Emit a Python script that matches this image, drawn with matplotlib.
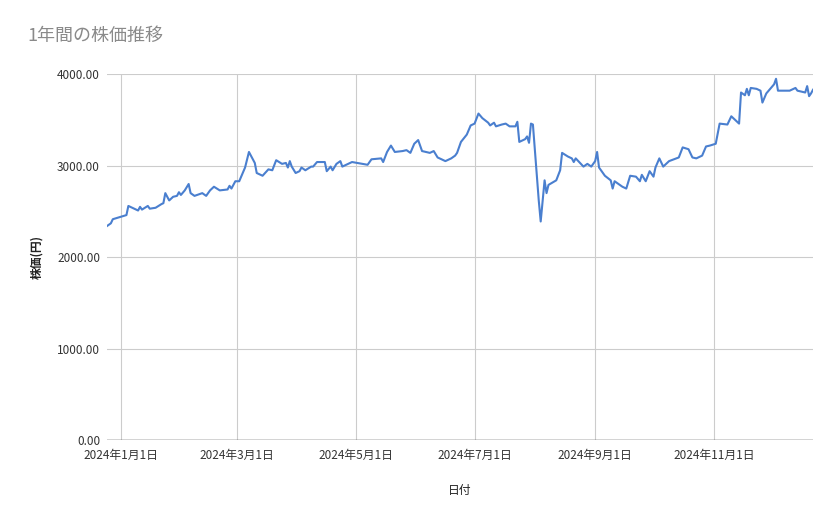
import numpy as np
import pandas as pd
import matplotlib
matplotlib.use('Agg')
import matplotlib.pyplot as plt

plt.rcParams['font.family'] = ['Noto Sans CJK JP', 'DejaVu Sans']

# days from 2024-01-01
days = [-7, -5, -4, 0, 3, 4, 7, 9, 10, 11, 14, 15, 18, 21, 22, 23, 25, 27, 29, 30,
        31, 33, 35, 36, 38, 42, 44, 46, 48, 51, 55, 56, 57, 59, 61, 64, 66, 69, 70, 73,
        76, 78, 80, 83, 85, 86, 87, 88, 90, 92, 93, 95, 98, 99, 101, 105, 106, 108, 109, 111,
        113, 114, 116, 119, 127, 129, 134, 135, 137, 139, 141, 145, 147, 149, 151, 153, 155, 159, 161, 163,
        167, 170, 172, 173, 175, 178, 180, 182, 184, 186, 189, 190, 192, 193, 196, 198, 200, 203, 204, 205,
        208, 209, 210, 211, 212, 215, 216, 218, 219, 220, 224, 226, 227, 230, 232, 233, 234, 238, 240, 242,
        244, 245, 246, 249, 252, 253, 254, 258, 260, 262, 265, 267, 268, 270, 272, 274, 275, 277, 279, 282,
        287, 289, 292, 294, 296, 299, 301, 303, 306, 308, 312, 314, 318, 319, 321, 322, 323, 324, 327, 329,
        330, 332, 336, 337, 338, 341, 344, 347, 348, 352, 353, 354, 355, 356]
prices = [2340, 2370, 2415, 2440, 2460, 2560, 2530, 2510, 2550, 2520, 2560, 2530, 2540, 2580, 2590, 2700, 2620, 2660, 2670, 2710,
          2680, 2730, 2800, 2700, 2670, 2700, 2670, 2730, 2770, 2730, 2740, 2780, 2750, 2830, 2830, 2980, 3150, 3030, 2920, 2890,
          2960, 2950, 3060, 3020, 3030, 2980, 3050, 2990, 2920, 2940, 2980, 2950, 2990, 2990, 3040, 3040, 2940, 2990, 2950, 3020,
          3050, 2990, 3010, 3040, 3010, 3070, 3080, 3040, 3150, 3220, 3150, 3160, 3170, 3140, 3240, 3280, 3160, 3140, 3160, 3090,
          3050, 3080, 3110, 3140, 3260, 3340, 3440, 3460, 3570, 3520, 3470, 3440, 3470, 3430, 3450, 3460, 3430, 3430, 3480, 3260,
          3290, 3320, 3250, 3460, 3450, 2620, 2390, 2840, 2700, 2790, 2840, 2950, 3140, 3100, 3080, 3040, 3080, 2990, 3020, 2990,
          3050, 3150, 2980, 2890, 2840, 2750, 2830, 2770, 2750, 2890, 2880, 2830, 2900, 2830, 2940, 2880, 2980, 3080, 2990, 3050,
          3090, 3200, 3180, 3090, 3080, 3110, 3210, 3220, 3240, 3460, 3450, 3540, 3460, 3800, 3770, 3840, 3770, 3850, 3840, 3820,
          3690, 3790, 3890, 3950, 3820, 3820, 3820, 3850, 3820, 3800, 3870, 3760, 3790, 3830]

start = pd.Timestamp('2024-01-01')
dates = [start + pd.Timedelta(days=d) for d in days]

fig = plt.figure(figsize=(8.39, 5.19), dpi=100)
ax = fig.add_axes([0.1275, 0.152, 0.8415, 0.705])
ax.plot(dates, prices, color='#4a7fcf', lw=1.5)

ax.set_xlim(start + pd.Timedelta(days=-7), start + pd.Timedelta(days=356))
ax.set_ylim(0, 4000)
ax.set_yticks([0, 1000, 2000, 3000, 4000])
ax.yaxis.set_major_formatter(matplotlib.ticker.FuncFormatter(lambda v, p: f'{v:.2f}'))
ticks = pd.date_range('2024-01-01', periods=6, freq='2MS')
ax.set_xticks(ticks)
ax.set_xticklabels([f'{t.year}年{t.month}月{t.day}日' for t in ticks])
ax.grid(True, color='#cccccc', lw=0.8)
ax.tick_params(axis='x', length=0, labelsize=8.5, colors='#333333', pad=6)
ax.tick_params(axis='y', length=0, labelsize=8.5, colors='#333333', pad=5)
for s in ax.spines.values():
    s.set_visible(False)
ax.axhline(0, color='#333333', lw=1)

ax.set_xlabel('日付', fontsize=8.5, color='#222222', labelpad=16)
ax.set_ylabel('株価(円)', fontsize=8.5, color='#222222', fontweight='bold', labelpad=10)
fig.text(0.033, 0.922, '1年間の株価推移', fontsize=13, color='#8a8a8a')

fig.savefig('out.png', dpi=100)
